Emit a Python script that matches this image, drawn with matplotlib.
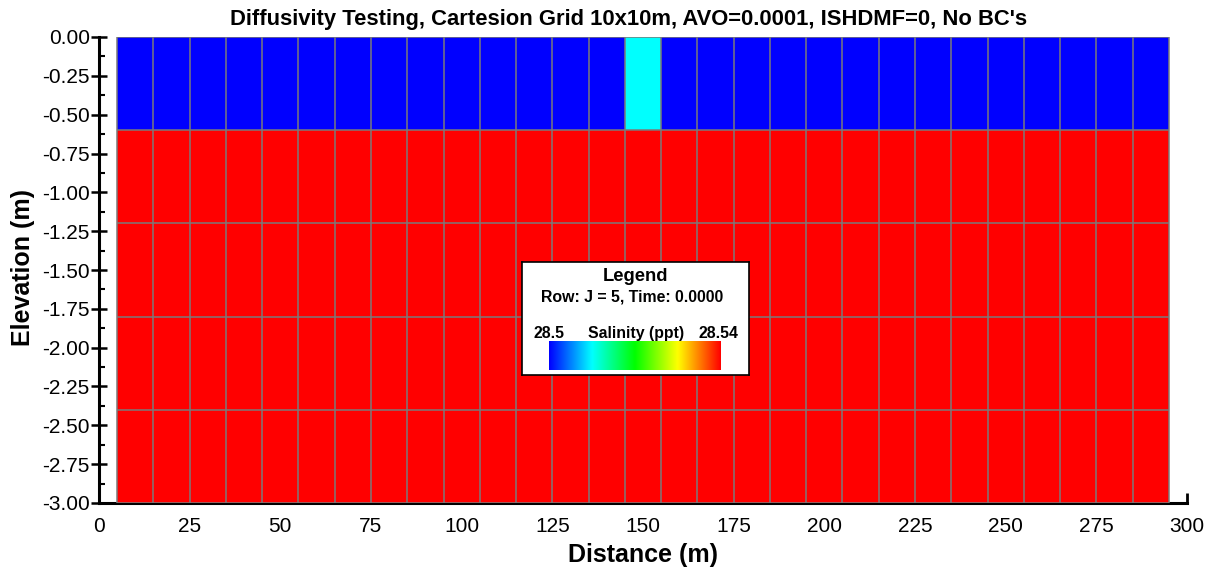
import numpy as np
import matplotlib
matplotlib.use('Agg')
import matplotlib.pyplot as plt
from matplotlib.colors import LinearSegmentedColormap
from matplotlib.ticker import MultipleLocator, FormatStrFormatter

plt.rcParams['font.family'] = ['Liberation Sans', 'DejaVu Sans']

# grid cell edges
x_edges = np.arange(5, 296, 10)          # 29 columns, 10 m wide
z_edges = [0.0, -0.6, -1.2, -1.8, -2.4, -3.0]

# salinity per layer (top to bottom), per column
top_layer = [28.5] * 29
top_layer[14] = 28.51                     # column centred at 150 m
lower_layers = [[28.54] * 29 for _ in range(4)]
salinity = np.array([top_layer] + lower_layers)

vmin, vmax = 28.5, 28.54
cmap = LinearSegmentedColormap.from_list(
    'sal', ['#0000ff', '#00ffff', '#00ff00', '#ffff00', '#ff0000'])

W, H = 1213, 573
fig = plt.figure(figsize=(W / 100, H / 100), dpi=100)
ax = fig.add_axes([99 / W, 1 - 503 / H, 1088 / W, 466 / H])

ax.pcolormesh(x_edges, z_edges, salinity, cmap=cmap, vmin=vmin, vmax=vmax,
              edgecolors='none', zorder=3)
# cell outlines
ax.vlines(x_edges, z_edges[-1], z_edges[0], color='#7a7a7a', lw=1.1, zorder=4)
ax.hlines(z_edges, x_edges[0], x_edges[-1], color='#7a7a7a', lw=1.1, zorder=4)

ax.set_xlim(0, 300)
ax.set_ylim(-3, 0)
ax.xaxis.set_major_locator(MultipleLocator(25))
ax.yaxis.set_major_locator(MultipleLocator(0.25))
ax.yaxis.set_minor_locator(MultipleLocator(0.125))
ax.yaxis.set_major_formatter(FormatStrFormatter('%.2f'))
for s in ['top', 'right']:
    ax.spines[s].set_visible(False)
for s in ['left', 'bottom']:
    ax.spines[s].set_linewidth(2.2)
    ax.spines[s].set_zorder(1)
ax.tick_params(axis='y', which='major', direction='inout', length=11.5, width=1.8,
               labelsize=15, pad=1)
ax.tick_params(axis='y', which='minor', direction='in', length=4, width=1.5)
ax.tick_params(axis='x', which='major', direction='in', length=7, width=2,
               labelsize=15, pad=10)

ax.set_xlabel('Distance (m)', fontsize=18, fontweight='bold')
ax.xaxis.set_label_coords(643 / W, 1 - 543 / H, transform=fig.transFigure)
ax.set_ylabel('Elevation (m)', fontsize=18, fontweight='bold')
ax.yaxis.set_label_coords(35 / W, 1 - 268 / H, transform=fig.transFigure)
fig.text(629 / W, 1 - 25 / H,
         "Diffusivity Testing, Cartesion Grid 10x10m, AVO=0.0001, ISHDMF=0, No BC's",
         ha='center', va='baseline', fontsize=15.8, fontweight='bold')

# legend box
box = fig.add_axes([522 / W, 1 - 375 / H, 227 / W, 113 / H])
box.set_xticks([])
box.set_yticks([])
for s in box.spines.values():
    s.set_linewidth(1.2)
box.set_xlim(522, 749)
box.set_ylim(375, 262)
box.text(635.5, 276, 'Legend', ha='center', va='center', fontsize=13.2, fontweight='bold')
box.text(632, 297, 'Row: J = 5, Time: 0.0000', ha='center', va='center', fontsize=11.4,
         fontweight='bold')
box.text(549, 333, '28.5', ha='center', va='center', fontsize=11.4, fontweight='bold')
box.text(636, 333, 'Salinity (ppt)', ha='center', va='center', fontsize=11.4, fontweight='bold')
box.text(718.5, 333, '28.54', ha='center', va='center', fontsize=11.4, fontweight='bold')

cax = fig.add_axes([549 / W, 1 - 370 / H, 172 / W, 29 / H])
grad = np.linspace(vmin, vmax, 256).reshape(1, -1)
cax.imshow(grad, aspect='auto', cmap=cmap, vmin=vmin, vmax=vmax)
cax.axis('off')

fig.savefig('out.png', dpi=100)
